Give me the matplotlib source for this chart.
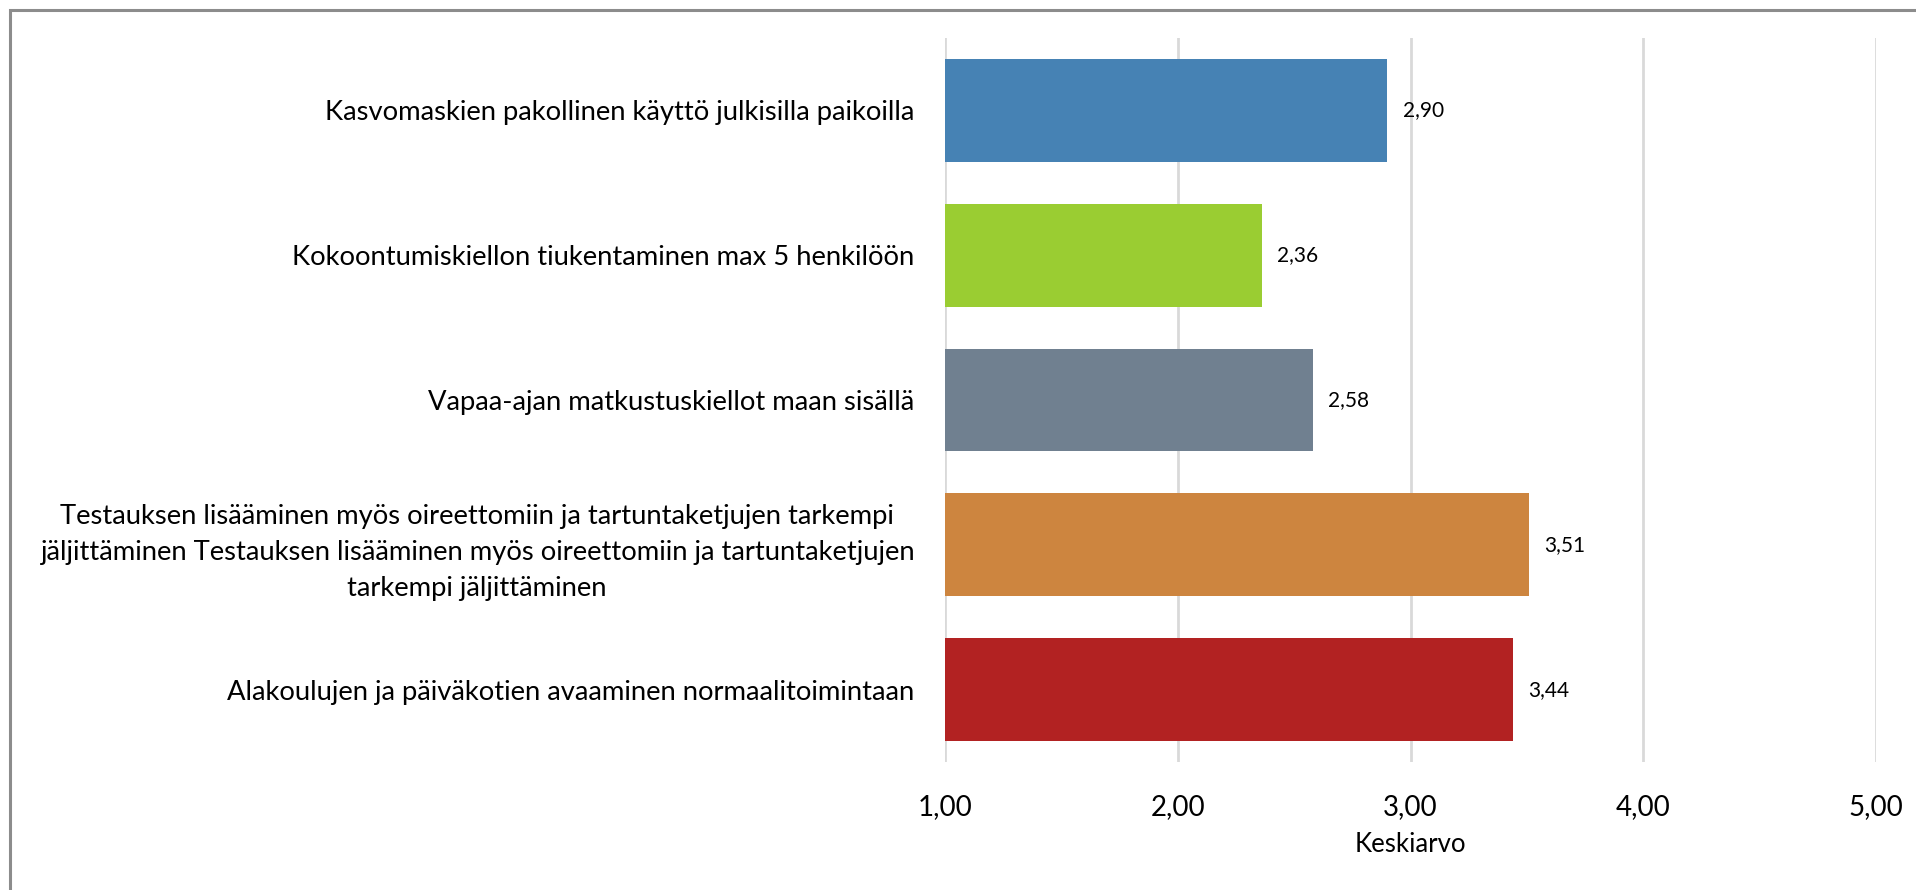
import matplotlib
matplotlib.use("Agg")
import matplotlib.pyplot as plt
from matplotlib.patches import Rectangle

plt.rcParams['font.family'] = ['Lato', 'DejaVu Sans']

categories = [
    "Kasvomaskien pakollinen käyttö julkisilla paikoilla",
    "Kokoontumiskiellon tiukentaminen max 5 henkilöön",
    "Vapaa-ajan matkustuskiellot maan sisällä",
    "Testauksen lisääminen myös oireettomiin ja tartuntaketjujen tarkempi\n"
    "jäljittäminen Testauksen lisääminen myös oireettomiin ja tartuntaketjujen\n"
    "tarkempi jäljittäminen",
    "Alakoulujen ja päiväkotien avaaminen normaalitoimintaan",
]
values = [2.90, 2.36, 2.58, 3.51, 3.44]
colors = ["#4682B4", "#9ACD32", "#708090", "#CD853F", "#B22222"]
xticks = [1, 2, 3, 4, 5]
xtick_labels = ["1,00", "2,00", "3,00", "4,00", "5,00"]
xlabel = "Keskiarvo"

W, H = 1916, 890
fig = plt.figure(figsize=(W / 100, H / 100), dpi=100)
ax = fig.add_axes([945 / W, (H - 762) / H, (1876 - 945) / W, (762 - 38) / H])

ypos = list(range(len(categories)))
ax.barh(ypos, [v - 1 for v in values], left=1, height=0.71, color=colors, zorder=3)
ax.set_ylim(len(categories) - 0.5, -0.5)
ax.set_xlim(1, 5)
ax.set_yticks(ypos)
ax.set_yticklabels(categories, fontsize=19.7, multialignment='center', linespacing=1.55)
ax.set_xticks(xticks)
ax.set_xticklabels(xtick_labels, fontsize=20)
ax.tick_params(axis='y', length=0, pad=22)
ax.tick_params(axis='x', length=0, pad=23)
ax.set_xlabel(xlabel, fontsize=18.5, labelpad=9)
ax.grid(axis='x', color='#d9d9d9', linewidth=2, zorder=0)
for s in ax.spines.values():
    s.set_visible(False)

for y, v in zip(ypos, values):
    ax.annotate(f"{v:.2f}".replace('.', ','), (v, y), xytext=(11, 0),
                textcoords='offset points', va='center', ha='left', fontsize=15)

fig.patches.append(Rectangle((10 / W, -0.1), 1.2, (H - 10) / H + 0.1,
                             transform=fig.transFigure, fill=False,
                             edgecolor='#8c8c8c', linewidth=2.2))

fig.savefig("out.png", dpi=100)
